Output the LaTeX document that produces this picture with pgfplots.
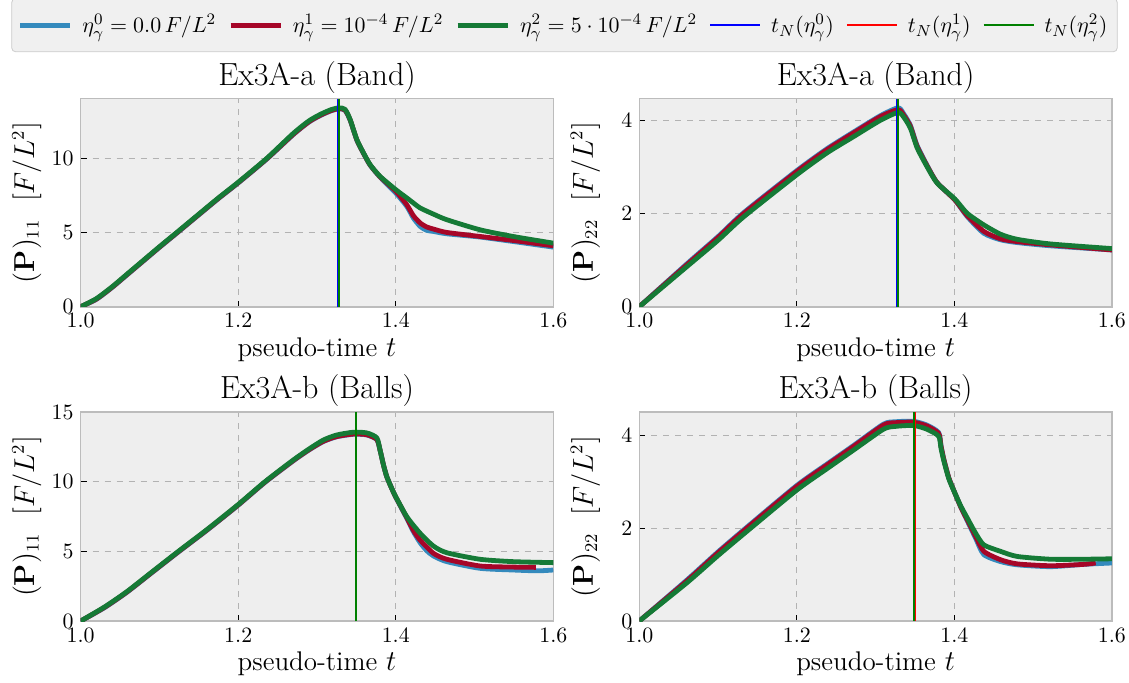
\documentclass[border=0pt]{standalone}
\usepackage{pgfplots}
\pgfplotsset{compat=1.18}
\definecolor{axbg}{HTML}{EEEEEE}
\definecolor{axedge}{HTML}{BCBCBC}
\definecolor{gridc}{HTML}{B2B2B2}
\definecolor{cb}{HTML}{348ABD}
\definecolor{cr}{HTML}{A60628}
\definecolor{cg}{HTML}{157A36}
\definecolor{legbg}{HTML}{F0F0F0}
\definecolor{legedge}{HTML}{CCCCCC}
\definecolor{vb}{RGB}{0,0,255}
\definecolor{vr}{RGB}{255,0,0}
\definecolor{vg}{RGB}{0,128,0}
\pgfplotsset{
  panel/.style={
    scale only axis, width=236.3pt,
    xmin=1, xmax=1.6, ymin=0,
    axis background/.style={fill=axbg},
    axis line style={axedge, line width=0.8pt},
    grid=major, grid style={dashed, gridc, line width=0.4pt},
    tick align=inside, tick pos=left, major tick length=3pt,
    tick style={black, line width=0.6pt},
    xtick={1,1.2,1.4,1.6},
    xticklabel style={/pgf/number format/.cd, fixed, fixed zerofill, precision=1},
    tick label style={font=\fontsize{10.5}{12}\selectfont},
    label style={font=\fontsize{13.5}{15}\selectfont},
    title style={font=\fontsize{16}{18}\selectfont, yshift=-7pt},
    xlabel={pseudo-time $t$},
    xlabel style={yshift=2pt},
    ylabel style={at={(axis description cs:-0.114,0.5)}, anchor=center},
    legend image code/.code={\draw[#1] (0pt,0pt) -- (25pt,0pt);},
  },
  cblue/.style={cb, line width=2.4pt, line join=round, smooth, tension=0.4},
  cred/.style={cr, line width=2.4pt, line join=round, smooth, tension=0.4},
  cgreen/.style={cg, line width=2.4pt, line join=round, smooth, tension=0.4},
  vline/.style={line width=1pt},
}
\begin{document}
\begin{tikzpicture}
\useasboundingbox (0,0) rectangle (564.5pt,341pt);
% ---------------- Top left
\begin{axis}[panel, at={(40.35pt,187.65pt)}, anchor=south west, height=104.1pt,
  ymax=14.05, ytick={0,5,10},
  title={Ex3A-a (Band)},
  ylabel={$(\mathbf{P})_{11}\ \ [F/L^2]$},
  legend style={at={(axis description cs:1.0237,1.482)}, anchor=north,
    legend columns=6, fill=legbg, draw=legedge, rounded corners=2pt,
    font=\fontsize{11}{13}\selectfont, inner xsep=3pt, inner ysep=6pt,
    /tikz/every odd column/.append style={column sep=3pt},
    /tikz/every even column/.append style={column sep=4pt}},
]
\addplot[cblue] coordinates {(1.000,0.00)(1.020,0.50)(1.040,1.30)(1.060,2.20)(1.080,3.10)(1.100,4.00)(1.124,5.05)(1.150,6.20)(1.175,7.30)(1.200,8.35)(1.236,9.95)(1.270,11.62)(1.290,12.47)(1.305,12.92)(1.318,13.22)(1.328,13.35)(1.3356,13.25)(1.342,12.60)(1.3505,11.25)(1.359,10.35)(1.3674,9.55)(1.380,8.75)(1.400,7.67)(1.414,6.77)(1.4224,5.98)(1.431,5.42)(1.4393,5.15)(1.4478,5.08)(1.4648,4.92)(1.507,4.70)(1.549,4.40)(1.600,4.02)};
\addlegendentry{$\eta_\gamma^0 = 0.0\,F/L^2$}
\addplot[cred] coordinates {(1.000,0.00)(1.020,0.52)(1.040,1.32)(1.060,2.22)(1.080,3.12)(1.100,4.02)(1.124,5.07)(1.150,6.22)(1.175,7.32)(1.200,8.37)(1.236,9.97)(1.270,11.64)(1.290,12.49)(1.305,12.94)(1.318,13.24)(1.328,13.37)(1.3356,13.27)(1.342,12.62)(1.3505,11.27)(1.359,10.36)(1.3674,9.57)(1.380,8.77)(1.400,7.79)(1.414,6.88)(1.4224,6.14)(1.431,5.65)(1.4393,5.38)(1.4478,5.24)(1.4648,5.01)(1.507,4.74)(1.549,4.47)(1.600,4.11)};
\addlegendentry{$\eta_\gamma^1 = 10^{-4}\,F/L^2$}
\addplot[cgreen] coordinates {(1.000,0)(1.020,0.55)(1.040,1.35)(1.060,2.25)(1.080,3.15)(1.100,4.05)(1.124,5.10)(1.150,6.25)(1.175,7.35)(1.200,8.40)(1.236,10.00)(1.270,11.70)(1.290,12.55)(1.305,13.00)(1.318,13.30)(1.328,13.42)(1.3356,13.32)(1.342,12.64)(1.3505,11.29)(1.359,10.38)(1.3674,9.59)(1.380,8.80)(1.400,7.90)(1.414,7.34)(1.4224,7.00)(1.431,6.66)(1.4478,6.25)(1.4648,5.87)(1.507,5.19)(1.549,4.74)(1.600,4.29)};
\addlegendentry{$\eta_\gamma^2 = 5\cdot 10^{-4}\,F/L^2$}
\addplot[vb, vline] coordinates {(1.3272,0)(1.3272,14.05)};
\addlegendentry{$t_N(\eta_\gamma^0)$}
\addplot[vr, vline] coordinates {(1.3278,0)(1.3278,14.05)};
\addlegendentry{$t_N(\eta_\gamma^1)$}
\addplot[vg, vline] coordinates {(1.3285,0)(1.3285,14.05)};
\addlegendentry{$t_N(\eta_\gamma^2)$}
\end{axis}
% ---------------- Top right
\begin{axis}[panel, at={(319.65pt,187.65pt)}, anchor=south west, height=104.1pt,
  ymax=4.48, ytick={0,2,4},
  title={Ex3A-a (Band)},
  ylabel={$(\mathbf{P})_{22}\ \ [F/L^2]$},
]
\addplot[cblue] coordinates {(1.000,0)(1.0602,0.92)(1.100,1.51)(1.1322,2.02)(1.200,2.93)(1.2383,3.40)(1.2721,3.76)(1.306,4.11)(1.3285,4.28)(1.3357,4.15)(1.3442,3.90)(1.3527,3.47)(1.3654,3.04)(1.3781,2.67)(1.4005,2.30)(1.4163,1.94)(1.4374,1.58)(1.4586,1.44)(1.4798,1.38)(1.5222,1.31)(1.6006,1.22)};
\addplot[cred] coordinates {(1.000,0)(1.0602,0.90)(1.100,1.49)(1.1322,2.00)(1.200,2.91)(1.2383,3.38)(1.2721,3.74)(1.306,4.09)(1.3285,4.24)(1.3357,4.12)(1.3442,3.88)(1.3527,3.45)(1.3654,3.03)(1.3781,2.67)(1.4005,2.30)(1.4163,1.96)(1.4374,1.62)(1.4586,1.46)(1.4798,1.40)(1.5222,1.33)(1.6006,1.22)};
\addplot[cgreen] coordinates {(1.000,0)(1.0602,0.86)(1.100,1.43)(1.1322,1.93)(1.200,2.84)(1.2383,3.31)(1.2721,3.66)(1.306,4.01)(1.3285,4.18)(1.3357,4.08)(1.3442,3.84)(1.3527,3.42)(1.3654,3.01)(1.3781,2.66)(1.4005,2.32)(1.4163,2.01)(1.4374,1.76)(1.4586,1.56)(1.4798,1.45)(1.5222,1.35)(1.6006,1.25)};
\addplot[vb, vline] coordinates {(1.3272,0)(1.3272,4.48)};
\addplot[vr, vline] coordinates {(1.3278,0)(1.3278,4.48)};
\addplot[vg, vline] coordinates {(1.3288,0)(1.3288,4.48)};
\end{axis}
% ---------------- Bottom left
\begin{axis}[panel, at={(40.35pt,30.5pt)}, anchor=south west, height=104.5pt,
  ymax=15, ytick={0,5,10,15},
  title={Ex3A-b (Balls)},
  ylabel={$(\mathbf{P})_{11}\ \ [F/L^2]$},
]
\addplot[cblue] coordinates {(1.000,0)(1.030,0.95)(1.0584,2.05)(1.090,3.45)(1.124,4.95)(1.160,6.50)(1.1993,8.28)(1.234,9.95)(1.270,11.50)(1.290,12.28)(1.3081,12.88)(1.325,13.22)(1.3462,13.40)(1.3632,13.35)(1.3759,13.02)(1.380,12.28)(1.3844,11.2)(1.3886,10.36)(1.395,9.5)(1.400,8.88)(1.414,7.37)(1.4224,6.41)(1.4309,5.62)(1.4393,5.05)(1.4478,4.67)(1.4648,4.26)(1.507,3.78)(1.549,3.66)(1.580,3.60)(1.600,3.66)};
\addplot[cred] coordinates {(1.000,0)(1.030,0.97)(1.0584,2.07)(1.090,3.47)(1.124,4.97)(1.160,6.52)(1.1993,8.30)(1.234,9.97)(1.270,11.52)(1.290,12.30)(1.3081,12.90)(1.325,13.24)(1.3462,13.42)(1.3632,13.37)(1.3759,13.04)(1.380,12.28)(1.3844,11.2)(1.3886,10.36)(1.395,9.5)(1.400,8.90)(1.414,7.42)(1.4224,6.50)(1.4309,5.81)(1.4478,4.86)(1.4648,4.43)(1.507,3.95)(1.549,3.87)(1.578,3.85)};
\addplot[cgreen] coordinates {(1.000,0)(1.030,1.0)(1.0584,2.10)(1.090,3.50)(1.124,5.0)(1.160,6.55)(1.1993,8.33)(1.234,10.0)(1.270,11.56)(1.290,12.35)(1.3081,12.99)(1.325,13.35)(1.3462,13.55)(1.3632,13.50)(1.3759,13.15)(1.380,12.28)(1.3844,11.2)(1.3886,10.36)(1.395,9.5)(1.400,8.92)(1.414,7.49)(1.4309,6.30)(1.4478,5.38)(1.4648,4.90)(1.507,4.43)(1.549,4.26)(1.600,4.19)};
\addplot[vb, vline] coordinates {(1.3495,0)(1.3495,15)};
\addplot[vr, vline] coordinates {(1.3497,0)(1.3497,15)};
\addplot[vg, vline] coordinates {(1.3489,0)(1.3489,15)};
\end{axis}
% ---------------- Bottom right
\begin{axis}[panel, at={(319.65pt,30.5pt)}, anchor=south west, height=104.5pt,
  ymax=4.5, ytick={0,2,4},
  title={Ex3A-b (Balls)},
  ylabel={$(\mathbf{P})_{22}\ \ [F/L^2]$},
]
\addplot[cblue] coordinates {(1.000,0)(1.0602,0.88)(1.100,1.49)(1.1365,2.02)(1.200,2.92)(1.240,3.40)(1.272,3.78)(1.310,4.24)(1.325,4.29)(1.348,4.30)(1.365,4.22)(1.380,4.06)(1.383,3.78)(1.3866,3.48)(1.393,3.08)(1.4005,2.76)(1.408,2.46)(1.4163,2.16)(1.427,1.78)(1.4374,1.43)(1.4586,1.28)(1.4798,1.21)(1.5222,1.17)(1.5645,1.22)(1.6006,1.25)};
\addplot[cred] coordinates {(1.000,0)(1.0602,0.86)(1.100,1.47)(1.1365,2.00)(1.200,2.90)(1.240,3.38)(1.272,3.76)(1.310,4.22)(1.325,4.27)(1.348,4.28)(1.365,4.20)(1.380,4.04)(1.383,3.77)(1.3866,3.48)(1.393,3.08)(1.4005,2.76)(1.408,2.46)(1.4163,2.18)(1.427,1.82)(1.4374,1.50)(1.4586,1.32)(1.4798,1.23)(1.5222,1.19)(1.5645,1.22)(1.5794,1.25)};
\addplot[cgreen] coordinates {(1.000,0)(1.0602,0.82)(1.100,1.41)(1.1365,1.93)(1.200,2.82)(1.240,3.30)(1.272,3.68)(1.310,4.13)(1.325,4.19)(1.348,4.21)(1.365,4.13)(1.380,3.98)(1.383,3.72)(1.3866,3.45)(1.393,3.06)(1.4005,2.76)(1.408,2.48)(1.4163,2.22)(1.427,1.89)(1.4374,1.64)(1.4586,1.50)(1.4798,1.39)(1.5222,1.33)(1.5645,1.33)(1.6006,1.34)};
\addplot[vb, vline] coordinates {(1.3495,0)(1.3495,4.5)};
\addplot[vr, vline] coordinates {(1.3497,0)(1.3497,4.5)};
\addplot[vg, vline] coordinates {(1.3489,0)(1.3489,4.5)};
\end{axis}
\end{tikzpicture}
\end{document}
